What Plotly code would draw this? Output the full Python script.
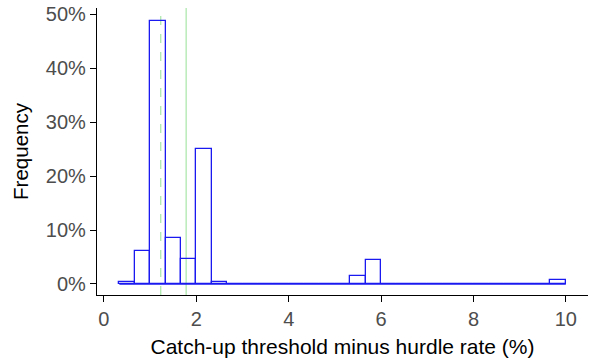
import plotly.graph_objects as go

# Histogram data (bin width 1/3, bins start at 1/3)
bin_width = 1/3
bin_starts = [k / 3 for k in range(1, 30)]
freq_pct = [0.3, 6.1, 48.7, 8.6, 4.7, 25.1, 0.3,
            0, 0, 0, 0, 0, 0, 0, 0,
            1.5, 4.4,
            0, 0, 0, 0, 0, 0, 0, 0, 0, 0, 0,
            0.8]
median_val = 1.23
mean_val = 1.78
x_ticks = [0, 2, 4, 6, 8, 10]
y_ticks = [0, 10, 20, 30, 40, 50]

centers = [s + bin_width / 2 for s in bin_starts]
BLUE = "#1A1AF0"
GREEN = "#A8E6A8"

fig = go.Figure()
fig.add_trace(go.Bar(
    x=centers, y=freq_pct, width=bin_width,
    marker=dict(color="rgba(255,255,255,0)", line=dict(color=BLUE, width=1.3)),
    showlegend=False, hoverinfo="x+y",
))
# zero-height bins outline along baseline
fig.add_trace(go.Scatter(
    x=[bin_starts[0], bin_starts[-1] + bin_width], y=[0, 0],
    mode="lines", line=dict(color=BLUE, width=1.8), showlegend=False, hoverinfo="skip",
))

for v, dash in [(median_val, "dash"), (mean_val, "solid")]:
    fig.add_shape(type="line", x0=v, x1=v, xref="x", yref="paper", y0=0, y1=1,
                  line=dict(color=GREEN, width=1.2, dash=dash), layer="below")

font_family = "Liberation Sans, Arial, sans-serif"
fig.update_layout(
    width=596, height=360,
    margin=dict(l=97, r=8, t=8, b=65, autoexpand=False),
    plot_bgcolor="white", paper_bgcolor="white",
    font=dict(family=font_family, size=20, color="black"),
    bargap=0,
    xaxis=dict(
        range=[-0.15, 10.48], tickmode="array", tickvals=x_ticks,
        ticktext=[str(t) for t in x_ticks], automargin=False,
        showgrid=False, zeroline=False, showline=True, linecolor="black", linewidth=1.4,
        ticks="outside", ticklen=6, tickcolor="black", tickwidth=1.3,
        tickfont=dict(color="#4D4D4D", size=20),
        title=dict(text="Catch-up threshold minus hurdle rate (%)", standoff=10,
                   font=dict(size=21, color="black")),
    ),
    yaxis=dict(
        range=[-2.05, 51.2], tickmode="array", tickvals=y_ticks,
        ticktext=[f"{t}%" for t in y_ticks], automargin=False,
        showgrid=False, zeroline=False, showline=True, linecolor="black", linewidth=1.4,
        ticks="outside", ticklen=6, tickcolor="black", tickwidth=1.3,
        tickfont=dict(color="#4D4D4D", size=20),
        title=dict(text="Frequency", standoff=11, font=dict(size=20.5, color="black")),
    ),
)
fig.write_html("out.html")
